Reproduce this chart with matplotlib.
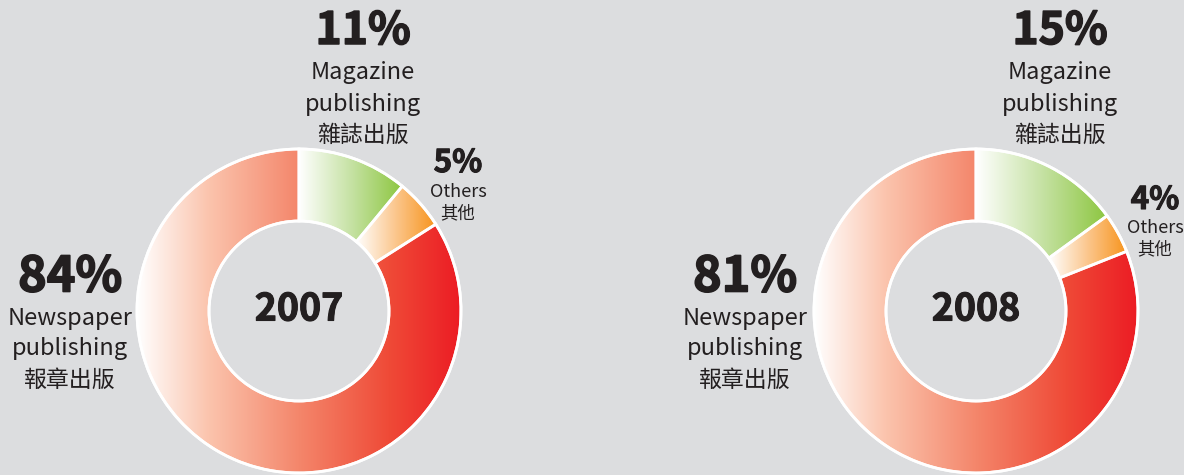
import numpy as np
import matplotlib
matplotlib.use("Agg")
import matplotlib.pyplot as plt
import matplotlib.patheffects as pe
from matplotlib.patches import Wedge, Circle
from matplotlib.colors import LinearSegmentedColormap

plt.rcParams['font.family'] = ['Noto Sans CJK TC', 'DejaVu Sans']

years = ["2007", "2008"]
categories_en = ["Magazine\npublishing", "Others", "Newspaper\npublishing"]
categories_zh = ["雜誌出版", "其他", "報章出版"]
shares_2007 = [11, 5, 84]
shares_2008 = [15, 4, 81]
all_shares = [shares_2007, shares_2008]

BG = "#dcdddf"
W, H = 1184, 475
fig = plt.figure(figsize=(W / 100, H / 100), dpi=100, facecolor=BG)
ax = fig.add_axes([0, 0, 1, 1])
ax.set_xlim(0, W)
ax.set_ylim(0, H)
ax.set_aspect('equal')
ax.axis('off')
ax.set_facecolor(BG)

cmaps = [
    LinearSegmentedColormap.from_list("g", ["#ffffff", "#c6e2a4", "#8cc63f"]),
    LinearSegmentedColormap.from_list("o", ["#ffffff", "#fbc68c", "#f7941d"]),
    LinearSegmentedColormap.from_list("r", [(0, "#ffffff"), (0.22, "#fbc4ad"), (0.5, "#f4866b"),
                                             (0.78, "#ef4a37"), (1, "#ec1c24")]),
]

centers = [(299, 475 - 311), (976, 475 - 311)]
R_OUT, R_IN = 162, 90
grad = np.linspace(0, 1, 256).reshape(1, -1)

for (cx, cy), shares in zip(centers, all_shares):
    total = sum(shares)
    start = 90.0
    for i, s in enumerate(shares):
        span = 360.0 * s / total
        t1, t2 = start - span, start
        w = Wedge((cx, cy), R_OUT, t1, t2, width=R_OUT - R_IN, facecolor='none',
                  edgecolor='none')
        ax.add_patch(w)
        ext = w.get_path().get_extents()
        im = ax.imshow(grad, cmap=cmaps[i], aspect='auto', interpolation='bilinear',
                       extent=[ext.x0, ext.x1, ext.y0, ext.y1], zorder=1)
        im.set_clip_path(w)
        edge = Wedge((cx, cy), R_OUT, t1, t2, width=R_OUT - R_IN, facecolor='none',
                     edgecolor='white', linewidth=2, zorder=2)
        ax.add_patch(edge)
        start = t1
    ax.add_patch(Circle((cx, cy), R_OUT, facecolor='none', edgecolor='white', lw=2, zorder=3))
    ax.add_patch(Circle((cx, cy), R_IN, facecolor='none', edgecolor='white', lw=2, zorder=3))

TXT = "#231f20"

def heavy(lw):
    return [pe.withStroke(linewidth=lw, foreground=TXT)]

def label(x, y, pct, en_lines, zh, pct_size, txt_size, zh_size, line_h, gap, stroke):
    ax.text(x, H - y, f"{pct}%", ha='center', va='center', fontsize=pct_size,
            fontweight='bold', color=TXT, path_effects=heavy(stroke))
    yy = y + gap
    for ln in en_lines:
        ax.text(x, H - yy, ln, ha='center', va='center', fontsize=txt_size, color=TXT)
        yy += line_h
    ax.text(x, H - yy, zh, ha='center', va='center', fontsize=zh_size, color=TXT)

# 2007
label(363, 31, shares_2007[0], ["Magazine", "publishing"], categories_zh[0], 32, 17, 16.5, 31, 42, 1.1)
label(458, 163, shares_2007[1], ["Others"], categories_zh[1], 22.5, 13, 12.5, 21, 29, 0.8)
label(70, 277, shares_2007[2], ["Newspaper", "publishing"], categories_zh[2], 35, 17, 16.5, 31, 41, 1.2)
# 2008
label(1060, 31, shares_2008[0], ["Magazine", "publishing"], categories_zh[0], 32, 17, 16.5, 31, 42, 1.1)
label(1155, 200, shares_2008[1], ["Others"], categories_zh[1], 22.5, 13, 12.5, 21, 28, 0.8)
label(745, 277, shares_2008[2], ["Newspaper", "publishing"], categories_zh[2], 35, 17, 16.5, 31, 41, 1.2)

for (cx, cy), yr in zip(centers, years):
    ax.text(cx, cy + 2, yr, ha='center', va='center', fontsize=27, fontweight='bold',
            color=TXT, path_effects=heavy(0.8))

fig.savefig("out.png", dpi=100, facecolor=BG)
